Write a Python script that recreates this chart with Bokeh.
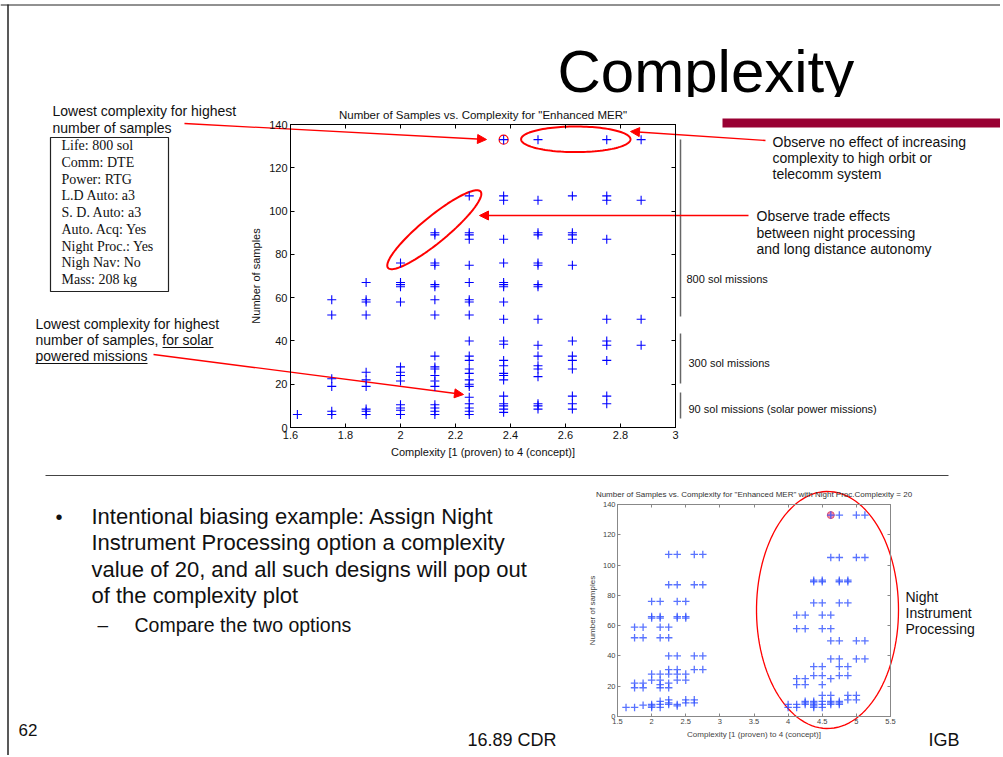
import numpy as np
from bokeh.plotting import figure
from bokeh.models import (Range1d, FixedTicker, LinearAxis, Label, Arrow, NormalHead,
                          PolyAnnotation, BoxAnnotation, ColumnDataSource, CustomJSTickFormatter)
from bokeh.embed import file_html
from bokeh.resources import INLINE

# ---------------- data ----------------
main_x_ticks = [1.6, 1.8, 2.0, 2.2, 2.4, 2.6, 2.8, 3.0]
main_y_ticks = [0, 20, 40, 60, 80, 100, 120, 140]
small_x_ticks = [1.5, 2, 2.5, 3, 3.5, 4, 4.5, 5, 5.5]
small_y_ticks = [0, 20, 40, 60, 80, 100, 120, 140]

main_complexity = [1.625, 1.75, 1.875, 2.0, 2.125, 2.25, 2.375, 2.5, 2.625, 2.75, 2.875]
main_samples = [
    [6],
    [59, 52, 22.5, 19, 7.5, 6],
    [67, 59, 58, 52, 25.5, 22, 19, 8.5, 7.5, 6],
    [76, 67, 66, 65, 58, 28, 25.5, 24, 21.5, 10.5, 9, 8, 6],
    [90, 89, 76, 75, 66, 65, 59, 52, 33, 28, 27, 24, 21.5, 19, 10.5, 9, 7.5, 6],
    [107, 90, 89, 87, 75, 67, 59, 58, 52, 40, 33, 31, 27, 25, 22, 20, 19, 14, 11, 9, 7.5, 6],
    [133, 107, 105, 87, 76, 67, 66, 65, 58, 50, 40, 38.5, 31, 28.5, 25, 24, 22, 14.5, 11, 10, 8.5, 7],
    [133, 105, 90, 89, 76, 75, 66, 65, 50, 38, 33, 28.5, 27, 23.5, 11, 10, 8.5],
    [107, 90, 89, 87, 75, 40, 33, 31, 27, 14.5, 11, 8.5],
    [133, 107, 105, 87, 50, 40, 38, 31, 14.5, 11],
    [133, 105, 50, 38],
]
main_best_x = [2.375]
main_best_y = [133]

small_complexity = [1.625, 1.75, 1.875, 2.0, 2.125, 2.25, 2.375, 2.5, 2.625, 2.75,
                    4.0, 4.125, 4.25, 4.375, 4.5, 4.625, 4.75, 4.875, 5.0, 5.125]
small_samples = [
    [6],
    [59, 52, 22, 19, 6],
    [59, 52, 22, 19, 7.5],
    [76, 66, 65, 28, 24, 8, 7, 6],
    [76, 66, 65, 59, 52, 28, 24, 21, 19, 10, 8, 6],
    [107, 87, 59, 52, 40, 31, 28, 22, 19, 11, 9, 8],
    [107, 87, 76, 66, 65, 40, 31, 28, 24, 8, 7],
    [76, 66, 65, 28, 24, 11, 9],
    [107, 87, 40, 31, 11, 9],
    [107, 87, 40, 31],
    [8, 6],
    [67, 58, 25, 21, 8, 6],
    [67, 58, 25, 21, 10, 9, 8],
    [90, 89, 75, 33, 27, 10, 9, 8, 7, 6],
    [90, 89, 75, 67, 58, 33, 27, 21, 14, 10, 8, 6],
    [133, 105, 67, 58, 50, 38, 25, 14, 10, 9, 8],
    [133, 105, 90, 89, 75, 50, 38, 33, 27, 10, 9, 8],
    [90, 89, 75, 33, 27, 14, 11],
    [133, 105, 50, 38, 14, 11],
    [133, 105, 50, 38],
]
small_best_x = [4.625]
small_best_y = [133]

# ---------------- layout (page pixels) ----------------
ML, MR, MT, MB = 290, 675, 124, 427      # main plot frame
SL, SR, ST, SB = 617, 890, 504, 716      # small plot frame
P_BOX = (225, 95, 700, 467)              # main plot canvas  (left, top, right, bottom)
Q_BOX = (572, 478, 930, 750)             # small plot canvas

SANS = "Liberation Sans"
SERIF = "Liberation Serif"


def flat(cols, vals):
    xs, ys = [], []
    for c, v in zip(cols, vals):
        for y in v:
            xs.append(c)
            ys.append(y)
    return xs, ys


def style_axes(fig, xt, yt, size, lab_color, line_color, tick_len):
    for ax in fig.xaxis:
        ax.ticker = FixedTicker(ticks=xt)
    for ax in fig.yaxis:
        ax.ticker = FixedTicker(ticks=yt)
    for ax in fig.axis:
        ax.formatter = CustomJSTickFormatter(code="return tick.toString()")
        ax.major_tick_in = tick_len
        ax.major_tick_out = 0
        ax.minor_tick_line_color = None
        ax.axis_line_color = line_color
        ax.major_tick_line_color = line_color
        ax.major_label_text_font = SANS
        ax.major_label_text_font_size = f"{size}px"
        ax.major_label_text_color = lab_color
        ax.axis_label_text_font = SANS
        ax.axis_label_text_font_style = "normal"
        ax.axis_label_text_font_size = f"{size}px"
        ax.axis_label_text_color = lab_color
        ax.major_label_standoff = 3
        ax.axis_label_standoff = 4


def mirror_axes(fig, xt, yt, line_color, tick_len):
    for loc, tk in (("above", xt), ("right", yt)):
        ax = LinearAxis(ticker=FixedTicker(ticks=tk), major_tick_in=tick_len, major_tick_out=0,
                        minor_tick_line_color=None, axis_line_color=line_color,
                        major_tick_line_color=line_color, major_label_text_color=None,
                        major_label_text_font_size="1px", major_label_standoff=0)
        fig.add_layout(ax, loc)


def plot_fig(box, frame, xr, yr):
    l, t, r, b = box
    fl, fr, ft, fb = frame
    return figure(width=r - l, height=b - t, x_range=Range1d(*xr), y_range=Range1d(*yr),
                  output_backend="svg", toolbar_location=None,
                  min_border_left=fl - l, min_border_right=r - fr,
                  min_border_top=ft - t, min_border_bottom=b - fb,
                  background_fill_color=None, border_fill_color=None,
                  styles={"position": "absolute", "left": f"{l}px", "top": f"{t}px"},
                  x_axis_label="Complexity [1 (proven) to 4 (concept)]",
                  y_axis_label="Number of samples")


# ================= slide background (page-pixel canvas) =================
bg = figure(width=1000, height=755, x_range=Range1d(0, 1000), y_range=Range1d(755, 0),
            output_backend="svg", toolbar_location=None, min_border=0,
            x_axis_location=None, y_axis_location=None,
            background_fill_color="white", border_fill_color="white",
            styles={"position": "absolute", "left": "0px", "top": "0px"})
bg.grid.visible = False
bg.outline_line_color = None


def label(px, py, text, size, font=SANS, color="#111111", baseline="middle", align="left"):
    bg.add_layout(Label(x=px, y=py, text=text, text_font=font, text_font_size=f"{size}px",
                        text_color=color, text_baseline=baseline, text_align=align))


def seg(p0, p1, color="black", width=1.0, head=False):
    end = NormalHead(size=9, fill_color=color, line_color=color) if head else None
    bg.add_layout(Arrow(x_start=p0[0], y_start=p0[1], x_end=p1[0], y_end=p1[1],
                        line_color=color, line_width=width, end=end))


def ellipse(cx, cy, rx, ry, ang, color="red", width=2.0):
    t = np.linspace(0, 2 * np.pi, 120)
    a = np.deg2rad(ang)
    px = cx + rx * np.cos(t) * np.cos(a) - ry * np.sin(t) * np.sin(a)
    py = cy + rx * np.cos(t) * np.sin(a) + ry * np.sin(t) * np.cos(a)
    bg.add_layout(PolyAnnotation(xs=list(px), ys=list(py), fill_color=None, fill_alpha=0,
                                 line_color=color, line_alpha=1, line_width=width))


# slide border
seg((0, 4.5), (1000, 4.5), color="#222222", width=1)
seg((7.5, 4), (7.5, 755), color="#222222", width=1.5)

# slide title (descenders hidden by the pasted chart, as in the slide) and bar
label(557, 71, "Complexity", 60, baseline="alphabetic", color="#000000")
bg.add_layout(BoxAnnotation(left=540, right=880, top=96.5, bottom=106,
                            fill_color="white", fill_alpha=1, line_color=None))
bg.add_layout(BoxAnnotation(left=722, right=1000, top=118, bottom=127,
                            fill_color="#990033", fill_alpha=1, line_color=None))

# left annotations
label(52, 110, "Lowest complexity for highest", 14)
label(52, 127, "number of samples", 14)
bg.add_layout(BoxAnnotation(left=50, right=168, top=137, bottom=291, fill_color=None,
                            fill_alpha=0, line_color="#222222", line_alpha=1, line_width=1.2))
box_lines = ["Life: 800 sol", "Comm: DTE", "Power: RTG", "L.D Auto: a3", "S. D. Auto: a3",
             "Auto. Acq: Yes", "Night Proc.: Yes", "Nigh Nav: No", "Mass: 208 kg"]
for i, t in enumerate(box_lines):
    label(61, 145 + i * 16.75, t, 14, font=SERIF)

label(35, 323, "Lowest complexity for highest", 14)
label(35, 339, "number of samples, for solar", 14)
label(35, 355, "powered missions", 14)
seg((162, 347), (213, 347), color="#111111", width=1)
seg((35, 363), (147, 363), color="#111111", width=1)

# right annotations
for i, t in enumerate(["Observe no effect of increasing", "complexity to high orbit or",
                       "telecomm system"]):
    label(772, 141 + i * 16.3, t, 14)
for i, t in enumerate(["Observe trade effects", "between night processing",
                       "and long distance autonomy"]):
    label(756, 215.5 + i * 16.6, t, 14)

seg((680, 139), (680, 316), color="#666666", width=1.5)
seg((680, 333), (680, 383), color="#666666", width=1.5)
seg((680, 392), (680, 418), color="#666666", width=1.5)
label(686, 278, "800 sol missions", 11)
label(688, 362, "300 sol missions", 11)
label(688, 408, "90 sol missions (solar power missions)", 11)

# arrows
seg((184, 123), (486, 139), color="red", width=1.3, head=True)
seg((765, 140), (630, 131), color="red", width=1.3, head=True)
seg((748, 215), (479, 215), color="red", width=1.3, head=True)
seg((153, 354), (463, 394), color="red", width=1.3, head=True)

# ellipses
ellipse(575.3, 138.8, 54.7, 12.8, 0)
ellipse(433.8, 229.2, 60, 13, -39.5)
ellipse(827, 609.5, 71, 118.5, 0, width=1.3)

# horizontal rule
seg((45, 475), (948, 475), color="#444444", width=1)

# bottom text
label(55, 516, "\u2022", 20)
for i, t in enumerate(["Intentional biasing example: Assign Night",
                       "Instrument Processing option a complexity",
                       "value of 20, and all such designs will pop out",
                       "of the complexity plot"]):
    label(91, 516 + i * 26.4, t, 22)
label(97, 624, "\u2013", 19)
label(134, 624, "Compare the two options", 19.5)
label(18, 729, "62", 17)
label(467, 739, "16.89 CDR", 18)
label(928, 739, "IGB", 18)
for i, t in enumerate(["Night", "Instrument", "Processing"]):
    label(905, 596 + i * 16.3, t, 14)

# ================= main plot =================
p = plot_fig(P_BOX, (ML, MR, MT, MB), (1.6, 3.0), (0, 140))
p.title.text = 'Number of Samples vs. Complexity for "Enhanced MER"'
p.title.align = "center"
p.title.text_font = SANS
p.title.text_font_style = "normal"
p.title.text_font_size = "11.5px"
p.title.text_color = "#111111"
p.title.standoff = 8
p.xgrid.visible = False
p.ygrid.visible = False
p.outline_line_color = "black"
style_axes(p, main_x_ticks, main_y_ticks, 11, "#111111", "black", 4)
mirror_axes(p, main_x_ticks, main_y_ticks, "black", 4)

mxs, mys = flat(main_complexity, main_samples)
p.scatter(main_best_x, main_best_y, marker="circle", size=9, fill_color=None,
          line_color="red", line_width=1.2)
p.scatter(x="x", y="y", source=ColumnDataSource(dict(x=mxs, y=mys)), marker="cross",
          size=9, line_color="#0000FF", line_width=1.1)

# ================= small plot =================
q = plot_fig(Q_BOX, (SL, SR, ST, SB), (1.5, 5.5), (0, 140))
q.title.text = 'Number of Samples vs. Complexity for "Enhanced MER" with Night Proc.Complexity = 20'
q.title.align = "center"
q.title.text_font = SANS
q.title.text_font_style = "normal"
q.title.text_font_size = "8px"
q.title.text_color = "#333333"
q.title.standoff = 12
q.xgrid.visible = False
q.ygrid.visible = False
q.outline_line_color = "#888888"
style_axes(q, small_x_ticks, small_y_ticks, 7.5, "#444444", "#888888", 3)
for ax in q.axis:
    ax.axis_label_text_font_size = "8px"
    ax.axis_label_standoff = 3
    ax.major_label_standoff = 2
mirror_axes(q, small_x_ticks, small_y_ticks, "#888888", 3)

sxs, sys_ = flat(small_complexity, small_samples)
q.scatter(small_best_x, small_best_y, marker="circle", size=7, fill_color="#F07090",
          fill_alpha=0.8, line_color="#E05070")
q.scatter(x="x", y="y", source=ColumnDataSource(dict(x=sxs, y=sys_)), marker="cross",
          size=7.5, line_color="#3050FF", line_alpha=0.8, line_width=1.3)

open("out.html", "w").write(file_html([bg, p, q], INLINE))
